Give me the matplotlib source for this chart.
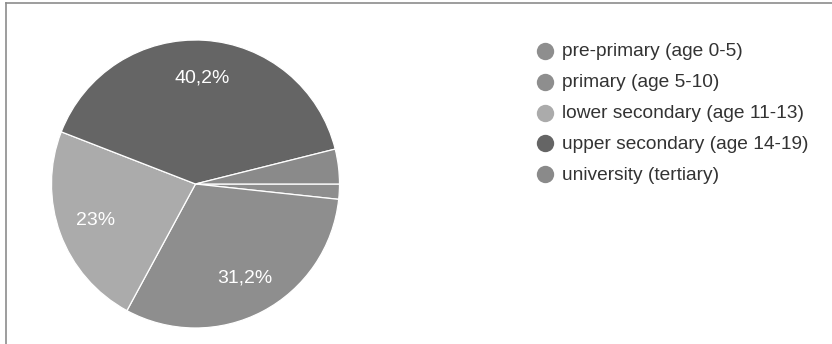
import matplotlib
matplotlib.use("Agg")
import matplotlib.pyplot as plt
from matplotlib.lines import Line2D
import numpy as np

plt.rcParams['font.family'] = ['Liberation Sans', 'DejaVu Sans']

# Share of students by level of education (%)
categories = [
    "pre-primary (age 0-5)",
    "primary (age 5-10)",
    "lower secondary (age 11-13)",
    "upper secondary (age 14-19)",
    "university (tertiary)",
]
values = [1.7, 31.2, 23.0, 40.2, 3.9]
colors = ["#8e8e8e", "#8e8e8e", "#ababab", "#656565", "#8a8a8a"]

W, H = 832, 344
fig = plt.figure(figsize=(W / 100, H / 100), dpi=100)

# pie placed by pixel box: centre (195.5, 184), radius 144
cx, cy, r = 195.5, 184, 144
ax = fig.add_axes([(cx - r) / W, (H - cy - r) / H, 2 * r / W, 2 * r / H])
wedges, _ = ax.pie(
    values,
    colors=colors,
    startangle=0,
    counterclock=False,
    radius=1,
    wedgeprops=dict(edgecolor="white", linewidth=0.9),
)
ax.set_xlim(-1, 1)
ax.set_ylim(-1, 1)
ax.axis("off")


def pct_label(v):
    if float(v).is_integer():
        return f"{int(v)}%"
    return f"{v:.1f}".replace(".", ",") + "%"


for w, v in zip(wedges, values):
    if v < 10:
        continue
    ang = np.deg2rad((w.theta1 + w.theta2) / 2)
    ax.text(0.74 * np.cos(ang), 0.74 * np.sin(ang), pct_label(v),
            ha="center", va="center", color="white", fontsize=14)

# legend
lx, ly0, dy = 545, 50.7, 30.9
for i, (lab, c) in enumerate(zip(categories, colors)):
    y = ly0 + i * dy
    fig.add_artist(Line2D([lx / W], [1 - y / H], marker="o", markersize=12.5,
                          color=c, markeredgewidth=0, linestyle="none",
                          transform=fig.transFigure))
    fig.text(562 / W, 1 - (y + 1.2) / H, lab, ha="left", va="center",
             fontsize=13.8, color="#333333")

# frame lines along the top and left edges
fig.add_artist(Line2D([5.5 / W, 1], [1 - 2.8 / H, 1 - 2.8 / H],
                      color="#8c8c8c", linewidth=1.2, transform=fig.transFigure))
fig.add_artist(Line2D([5.5 / W, 5.5 / W], [0, 1 - 2.8 / H],
                      color="#8c8c8c", linewidth=1.2, transform=fig.transFigure))

fig.savefig("out.png", dpi=100)
